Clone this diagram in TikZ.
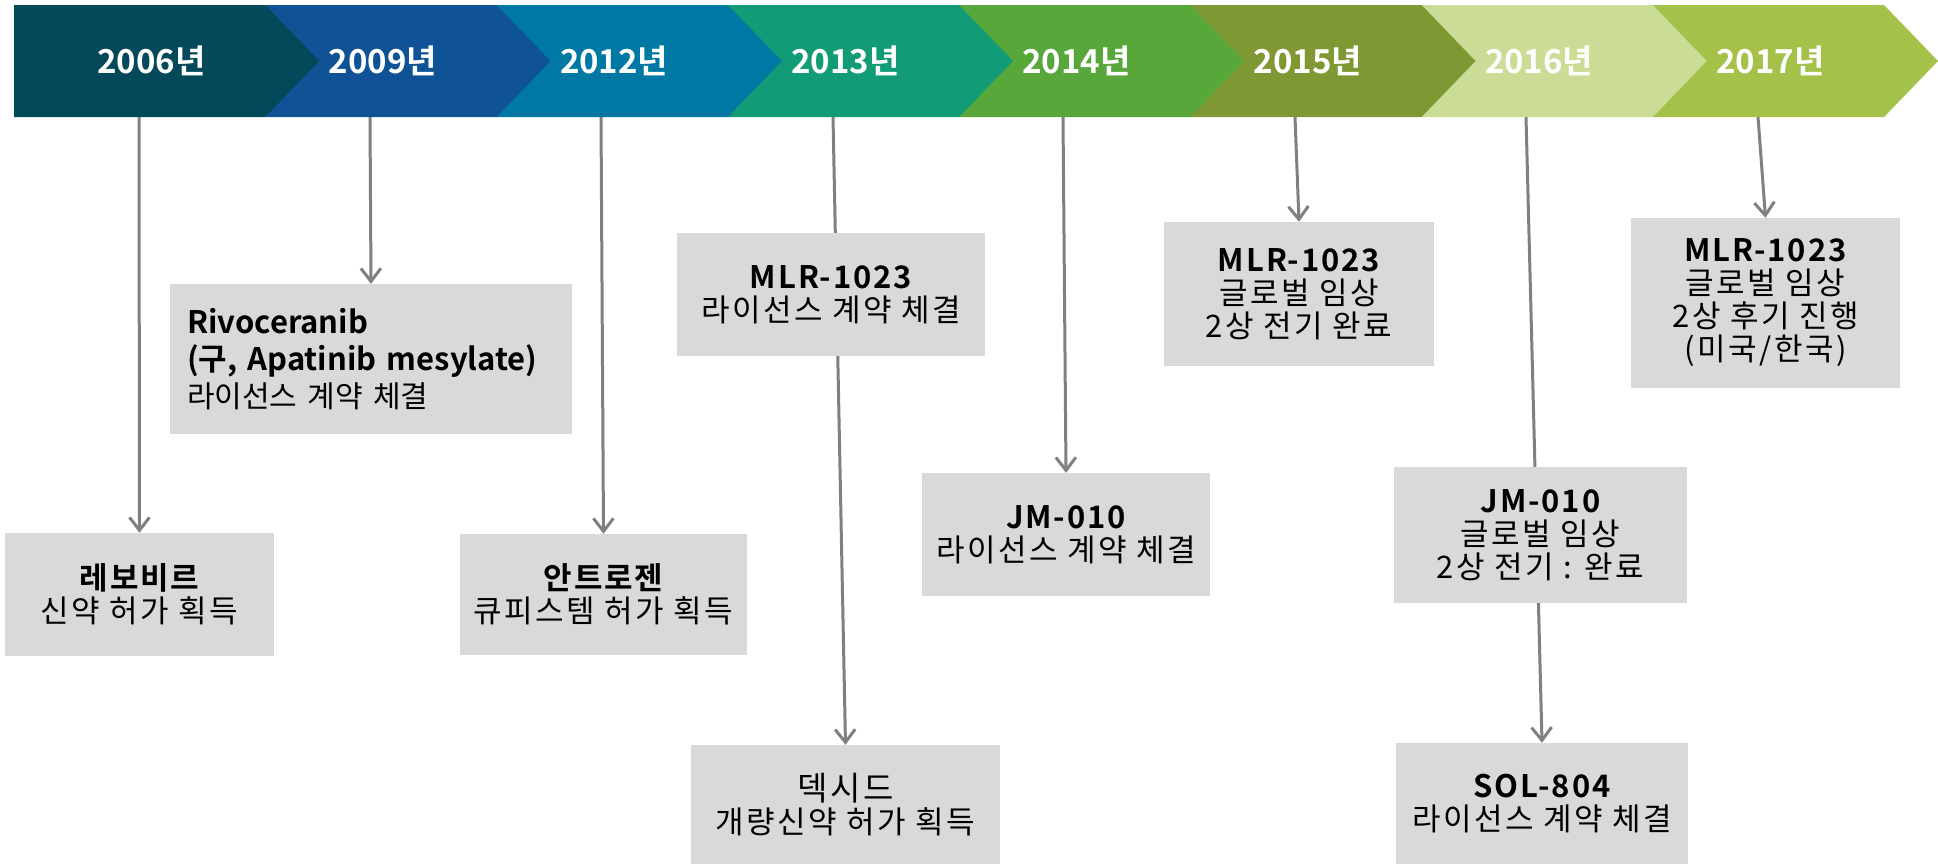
\documentclass[tikz,border=0pt]{standalone}
\usepackage{fontspec}
\setmainfont{Noto Sans CJK KR}[BoldFont={Noto Sans CJK KR Bold}]
\newfontfamily\boxfont{Noto Sans CJK KR}[LetterSpace=8, BoldFont={Noto Sans CJK KR Bold}, BoldFeatures={LetterSpace=6}]
\usepackage{xcolor}
\usepackage{tikz}
\usetikzlibrary{arrows.meta, backgrounds}
\definecolor{seg1}{HTML}{04495A}
\definecolor{seg2}{HTML}{0F5396}
\definecolor{seg3}{HTML}{0078A4}
\definecolor{seg4}{HTML}{119B76}
\definecolor{seg5}{HTML}{58A73B}
\definecolor{seg6}{HTML}{7E9834}
\definecolor{seg7}{HTML}{CADC96}
\definecolor{seg8}{HTML}{A4C14A}
\definecolor{boxgray}{HTML}{D9D9D9}
\definecolor{linegray}{HTML}{808080}
\newcommand{\ttl}[1]{{\bfseries #1}}
\tikzstyle{event}=[fill=boxgray, inner sep=0pt, align=center, font=\boxfont\fontsize{31}{33}\selectfont]
\tikzstyle{year}=[text=white, font=\fontsize{33}{40}\selectfont\bfseries]
\tikzstyle{link}=[draw=linegray, line width=3pt, -{Straight Barb[length=13pt, width=20pt]}]

\begin{document}
\begin{tikzpicture}[x=1pt, y=-1pt]
        \useasboundingbox (0,0) rectangle (1938,865);
        % banner, drawn right to left so each tip covers the next notch
        \foreach \i/\yr/\top in {8/2017/1758, 7/2016/1526, 6/2015/1295, 5/2014/1063,
                                 4/2013/833, 3/2012/601, 2/2009/370, 1/2006/139} {
            \pgfmathsetmacro{\L}{ifthenelse(\i==1, 14, 34+231.25*(\i-1))}
            \pgfmathsetmacro{\R}{34+231.25*\i}
            \fill[seg\i] (\L,5) -- (\R,5) -- (\R+54,61) -- (\R,117) -- (\L,117) -- cycle;
            \node[year] (yr\i) at ({36+231.25*(\i-0.5)},61) {\yr{}년};
            \coordinate (t\i) at (\top,117);
        }
        % events
        \node[event, minimum width=269pt, minimum height=123pt] (levo) at (139.5,594.5)
            {\ttl{레보비르}\\신약 허가 획득};
        \node[event, align=left, inner xsep=17pt, text width=368pt, minimum height=150pt,
              font=\fontsize{31}{37}\selectfont] (rivo) at (371,359)
            {\ttl{Rivoceranib}\\\ttl{(구, Apatinib mesylate)}\\{\fontsize{30}{37}\selectfont 라이선스 계약 체결}};
        \node[event, minimum width=287pt, minimum height=121pt] (antro) at (603.5,594.5)
            {\ttl{안트로젠}\\큐피스템 허가 획득};
        \node[event, minimum width=308pt, minimum height=123pt] (mlr13) at (831,294.5)
            {\ttl{MLR-1023}\\라이선스 계약 체결};
        \node[event, minimum width=309pt, minimum height=119pt] (dexid) at (845.5,804.5)
            {{\fontsize{33}{33}\selectfont 덱시드}\\개량신약 허가 획득};
        \node[event, minimum width=288pt, minimum height=123pt] (jm14) at (1066,534.5)
            {\ttl{JM-010}\\라이선스 계약 체결};
        \node[event, minimum width=270pt, minimum height=144pt] (mlr15) at (1299,294)
            {\ttl{MLR-1023}\\글로벌 임상\\2상 전기 완료};
        \node[event, minimum width=293pt, minimum height=136pt] (jm16) at (1540.5,535)
            {\ttl{JM-010}\\글로벌 임상\\2상 전기 : 완료};
        \node[event, minimum width=292pt, minimum height=121pt] (sol) at (1542,803.5)
            {\ttl{SOL-804}\\라이선스 계약 체결};
        \node[event, minimum width=269pt, minimum height=170pt] (mlr17) at (1765.5,303)
            {\ttl{MLR-1023}\\글로벌 임상\\2상 후기 진행\\(미국/한국)};
        % connectors behind the boxes
        \begin{scope}[on background layer]
            \draw[link] (t1) -- (levo.north);
            \draw[link] (t2) -- (rivo.north);
            \draw[link] (t3) -- (antro.north);
            \draw[link] (t4) -- (dexid.north);
            \draw[link] (t5) -- (jm14.north);
            \draw[link] (t6) -- (mlr15.north);
            \draw[link] (t7) -- (sol.north);
            \draw[link] (t8) -- (mlr17.north);
        \end{scope}
    \end{tikzpicture}
\end{document}
